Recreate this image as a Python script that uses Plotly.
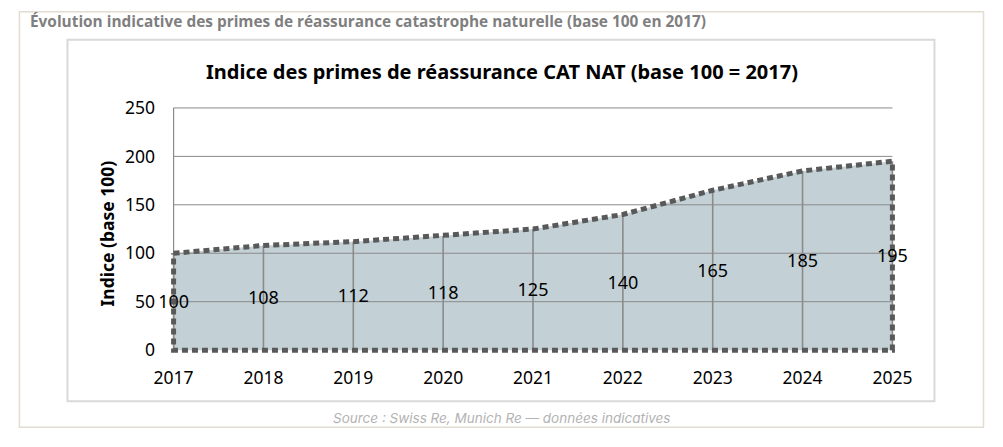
import plotly.graph_objects as go

# data
years = [2017, 2018, 2019, 2020, 2021, 2022, 2023, 2024, 2025]
index_values = [100, 108, 112, 118, 125, 140, 165, 185, 195]
y_ticks = [0, 50, 100, 150, 200, 250]

header = "Évolution indicative des primes de réassurance catastrophe naturelle (base 100 en 2017)"
chart_title = "Indice des primes de réassurance CAT NAT (base 100 = 2017)"
y_title = "Indice (base 100)"
source = "Source : Swiss Re, Munich Re — données indicatives"

W, H = 1003, 447
ML, MR, MT, MB = 170.4, 107.4, 106.1, 93.1
PW, PH = W - ML - MR, H - MT - MB


def px(x):
    return (x - ML) / PW


def py(y):
    return (H - y - MB) / PH


fig = go.Figure()

# filled area (no outline, drawn first so the grid sits on top)
fig.add_trace(go.Scatter(
    x=years, y=index_values, mode="lines", fill="tozeroy",
    fillcolor="#c3d1d6", line=dict(width=0), hoverinfo="skip"))

# horizontal gridlines above the fill
for t in y_ticks[1:]:
    fig.add_trace(go.Scatter(
        x=[years[0], years[-1]], y=[t, t], mode="lines",
        line=dict(color="#8a8a8a", width=1), hoverinfo="skip"))

# y axis line
fig.add_trace(go.Scatter(
    x=[years[0], years[0]], y=[y_ticks[0], y_ticks[-1]], mode="lines",
    line=dict(color="#8a8a8a", width=1.2), hoverinfo="skip"))

# drop lines
drop_x, drop_y = [], []
for yr, v in zip(years, index_values):
    drop_x += [yr, yr, None]
    drop_y += [0, v, None]
fig.add_trace(go.Scatter(
    x=drop_x, y=drop_y, mode="lines",
    line=dict(color="#8a8a8a", width=1.6), hoverinfo="skip"))

# dotted outline all round the area
out_x = years + [years[-1], years[0], years[0]]
out_y = index_values + [0, 0, index_values[0]]
fig.add_trace(go.Scatter(
    x=out_x, y=out_y, mode="lines",
    line=dict(color="#595959", width=5, dash="6px,4px"), hoverinfo="skip"))

# data labels sit in the middle of the area
fig.add_trace(go.Scatter(
    x=years, y=[v / 2 - 2 for v in index_values], mode="text",
    text=[str(v) for v in index_values], textposition="middle center",
    textfont=dict(family="Noto Sans", size=18, color="#000000"),
    cliponaxis=False, hoverinfo="skip"))

shapes = [
    # outer card
    dict(type="rect", xref="paper", yref="paper",
         x0=px(20), x1=px(983), y0=py(12), y1=py(427),
         line=dict(color="#e2dcd2", width=1.5), layer="below"),
    # chart box
    dict(type="rect", xref="paper", yref="paper",
         x0=px(68), x1=px(934), y0=py(40), y1=py(401),
         line=dict(color="#d9d9d9", width=2), layer="below"),
]

annotations = [
    dict(text="<b>" + header + "</b>", x=px(29), y=py(22), xref="paper", yref="paper",
         xanchor="left", yanchor="middle", showarrow=False,
         font=dict(family="Open Sans", size=15.4, color="#7f7f7f")),
    dict(text="<b>" + chart_title + "</b>", x=px(502), y=py(72),
         xref="paper", yref="paper", xanchor="center", yanchor="middle",
         showarrow=False, font=dict(family="Noto Sans", size=20, color="#000000")),
    dict(text="<b>" + y_title + "</b>", x=px(107), y=py(234),
         xref="paper", yref="paper", xanchor="center", yanchor="middle",
         textangle=-90, showarrow=False,
         font=dict(family="Noto Sans", size=17.5, color="#000000")),
    dict(text="<i>" + source + "</i>", x=px(502), y=py(418),
         xref="paper", yref="paper", xanchor="center", yanchor="middle",
         showarrow=False, font=dict(family="Inter", size=13.5, color="#b3b3b3")),
]

fig.update_layout(
    width=W, height=H,
    margin=dict(l=ML, r=MR, t=MT, b=MB, pad=0),
    paper_bgcolor="white", plot_bgcolor="white",
    showlegend=False,
    shapes=shapes, annotations=annotations,
    xaxis=dict(range=[2016.96, 2025.04], tickvals=years,
               ticktext=[str(y) for y in years], showgrid=False,
               zeroline=False, showline=False, ticks="",
               ticklabelstandoff=11,
               tickfont=dict(family="Noto Sans", size=17.5, color="#000000")),
    yaxis=dict(range=[-4, 252], tickvals=y_ticks, showgrid=False,
               zeroline=False, showline=False, ticks="",
               ticklabelstandoff=14,
               tickfont=dict(family="Noto Sans", size=17.5, color="#000000")),
)

# the page body has a default margin; drop it so the figure sits at 0,0
fig.write_html("out.html", config={"displayModeBar": False},
               post_script="document.body.style.margin='0';")
